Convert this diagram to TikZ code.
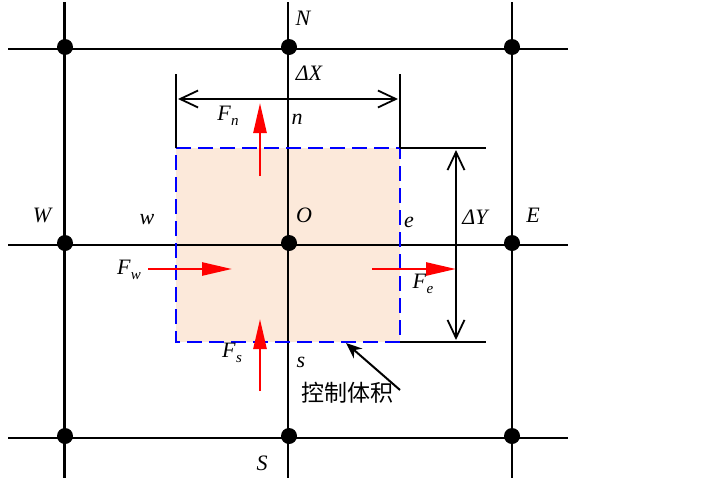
\documentclass[tikz,border=0pt]{standalone}
\usepackage{fontspec}
\setmainfont{Liberation Serif}
\newfontfamily\cjk{Noto Sans CJK SC}
\usetikzlibrary{arrows.meta}
\newcommand{\Fsub}[1]{\textit{F}\kern0.3pt\raisebox{-0.45ex}{\fontsize{15}{15}\selectfont\itshape #1}}
\tikzset{
  gridline/.style={line width=2.8pt, black},
  thinline/.style={line width=1.8pt, black},
  gdot/.style={circle, fill=black, inner sep=0pt, minimum size=16pt},
  cvbox/.style={draw=blue, line width=2pt, dash pattern=on 15pt off 7pt},
  dimarrow/.style={thinline, {Straight Barb[length=18pt,width=17pt,line width=1.8pt]}-{Straight Barb[length=18pt,width=17pt,line width=1.8pt]}},
  flux/.style={red, line width=2.6pt, -{Triangle[length=30pt,width=13pt]}},
  pointer/.style={black, line width=2pt, -{Stealth[length=16pt,width=13pt]}},
  lbl/.style={inner sep=0pt, font=\fontsize{22}{22}\selectfont\itshape},
  flbl/.style={inner sep=0pt, font=\fontsize{22}{22}\selectfont},
  cnlbl/.style={inner sep=0pt, font=\fontsize{23}{23}\selectfont\cjk},
}
\definecolor{cvfill}{HTML}{FCE9DA}
\begin{document}
\begin{tikzpicture}[x=1pt,y=-1pt]
\useasboundingbox (0,0) rectangle (722,482);
% control volume fill
\fill[cvfill] (176,148) rectangle (400,342);
% grid ends
\coordinate (c1t) at (64.5,2);   \coordinate (c1b) at (64.5,478);
\coordinate (c2t) at (288,2);    \coordinate (c2b) at (288,478);
\coordinate (c3t) at (512,2);    \coordinate (c3b) at (512,478);
\coordinate (r1l) at (8,49);     \coordinate (r1r) at (568,49);
\coordinate (r2l) at (8,245);    \coordinate (r2r) at (568,245);
\coordinate (r3l) at (8,438);    \coordinate (r3r) at (568,438);
\draw[gridline] (c1t) -- (c1b);
\draw[gridline] (c2t) -- (c2b);
\draw[gridline] (c3t) -- (c3b);
\draw[gridline] (r1l) -- (r1r);
\draw[gridline] (r2l) -- (r2r);
\draw[gridline] (r3l) -- (r3r);
% control volume border
\coordinate (cvtl) at (176,148); \coordinate (cvtr) at (400,148);
\coordinate (cvbl) at (176,342); \coordinate (cvbr) at (400,342);
\draw[cvbox] (cvtl) -- (cvtr) -- (cvbr) -- (cvbl) -- cycle;
% dimension ticks and arrows
\coordinate (tlx) at (176,74); \coordinate (trx) at (400,74);
\draw[thinline] (tlx) -- (cvtl);
\draw[thinline] (trx) -- (cvtr);
\coordinate (dxl) at (178,99); \coordinate (dxr) at (398,99);
\draw[dimarrow] (dxl) -- (dxr);
\coordinate (ety) at (486,148); \coordinate (eby) at (486,342);
\draw[thinline] (cvtr) -- (ety);
\draw[thinline] (cvbr) -- (eby);
\coordinate (dyt) at (456,150); \coordinate (dyb) at (456,340);
\draw[dimarrow] (dyt) -- (dyb);
% grid dots
\node[gdot] (NW) at (65,47) {};
\node[gdot] (N)  at (289,47) {};
\node[gdot] (NE) at (512,47) {};
\node[gdot] (W)  at (65,243) {};
\node[gdot] (O)  at (289,243) {};
\node[gdot] (E)  at (512,243) {};
\node[gdot] (SW) at (65,436) {};
\node[gdot] (S)  at (289,436) {};
\node[gdot] (SE) at (512,436) {};
% flux arrows
\coordinate (fn0) at (260,176); \coordinate (fn1) at (260,103);
\coordinate (fs0) at (260,391); \coordinate (fs1) at (260,319);
\coordinate (fw0) at (148,269); \coordinate (fw1) at (232,269);
\coordinate (fe0) at (372,269); \coordinate (fe1) at (456,269);
\draw[flux] (fn0) -- (fn1);
\draw[flux] (fs0) -- (fs1);
\draw[flux] (fw0) -- (fw1);
\draw[flux] (fe0) -- (fe1);
% labels
\node[lbl] (lN) at (303,18) {N};
\node[lbl] (lW) at (42,215) {W};
\node[lbl] (lE) at (533,215) {E};
\node[lbl] (lS) at (262,463) {S};
\node[lbl] (lO) at (304,215) {O};
\node[lbl] (lw) at (147,220) {w};
\node[lbl] (le) at (409,222) {e};
\node[lbl] (ln) at (297,119) {n};
\node[lbl] (ls) at (301,362) {s};
\node[lbl] (ldx) at (309,73) {ΔX};
\node[lbl] (ldy) at (475,217) {ΔY};
\node[flbl] (lFn) at (228,116) {\Fsub{n}};
\node[flbl] (lFw) at (129,270) {\Fsub{w}};
\node[flbl] (lFe) at (423,284) {\Fsub{e}};
\node[flbl] (lFs) at (232,353) {\Fsub{s}};
\node[cnlbl] (cv) at (347,393) {控制体积};
\coordinate (cvtip) at (346,343);
\coordinate (cvtail) at (400,390);
\draw[pointer] (cvtail) -- (cvtip);
\end{tikzpicture}
\end{document}
